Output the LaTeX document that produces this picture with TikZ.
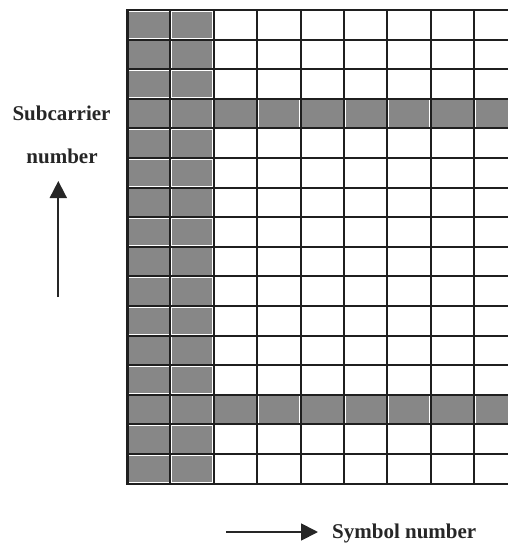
\documentclass[tikz,border=0pt]{standalone}
\usepackage{fontspec}
\setmainfont{Liberation Serif}
\usetikzlibrary{arrows.meta}
\tikzset{
  shade cell/.style={fill=black!47},
  grid line/.style={draw=black!88, line width=2pt},
  label text/.style={font=\fontsize{21}{25}\selectfont\bfseries, inner sep=0pt, text=black!85},
  axis arrow/.style={draw=black!85, line width=1.8pt, -{Triangle[width=17pt,length=17pt]}}
}
\begin{document}
\begin{tikzpicture}[x=1pt,y=-1pt]
\useasboundingbox (0,0) rectangle (508,547);
\def\cw{43.4}
\def\rh{29.6}
\def\gx{127}
\def\gy{10}
\begin{scope}
\clip (0,0) rectangle (508,547);
% shaded columns
\foreach \c in {0,1} {
  \foreach \r in {0,...,15} {
    \fill[shade cell] ({\gx+\c*\cw+1.5},{\gy+\r*\rh+1.5}) rectangle ++({\cw-3},{\rh-3});
  }
}
% shaded rows
\foreach \r in {3,13} {
  \foreach \c in {2,...,8} {
    \fill[shade cell] ({\gx+\c*\cw+1.5},{\gy+\r*\rh+1.5}) rectangle ++({\cw-3},{\rh-3});
  }
}
% horizontal lines
\foreach \r in {0,...,16} {
  \draw[grid line] (\gx-1,{\gy+\r*\rh}) -- (520,{\gy+\r*\rh});
}
% vertical lines
\foreach \c in {0,...,8} {
  \draw[grid line] ({\gx+\c*\cw},\gy) -- ({\gx+\c*\cw},{\gy+16*\rh});
}
\draw[grid line, line width=3pt] (\gx,\gy-1) -- (\gx,{\gy+16*\rh+1});
\end{scope}
% labels
\node[label text, anchor=base] (sub) at (61.5,120) {Subcarrier};
\node[label text, anchor=base] (num) at (62,163) {number};
\node[label text, anchor=base west] (sym) at (332,538) {Symbol number};
% arrows
\coordinate (upS) at (58.3,297);
\coordinate (upE) at (58.3,181);
\draw[axis arrow] (upS) -- (upE);
\coordinate (rtS) at (226,532);
\coordinate (rtE) at (318,532);
\draw[axis arrow] (rtS) -- (rtE);
\end{tikzpicture}
\end{document}
